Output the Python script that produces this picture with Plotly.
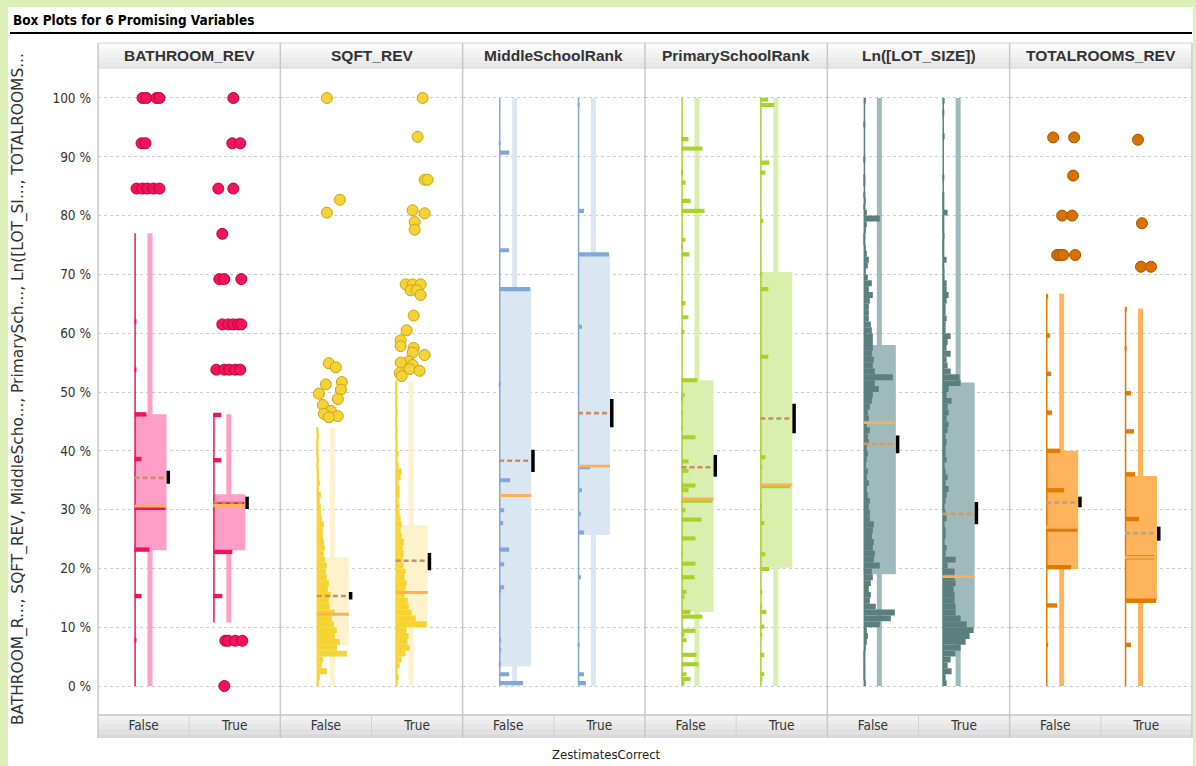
import plotly.graph_objects as go

# ---------------- data ----------------
variables = ["BATHROOM_REV", "SQFT_REV", "MiddleSchoolRank",
             "PrimarySchoolRank", "Ln([LOT_SIZE])", "TOTALROOMS_REV"]
groups = ["False", "True"]
y_tick_vals = [0, 10, 20, 30, 40, 50, 60, 70, 80, 90, 100]
y_tick_text = ["0 %", "10 %", "20 %", "30 %", "40 %", "50 %",
               "60 %", "70 %", "80 %", "90 %", "100 %"]
y_title = "BATHROOM_R..., SQFT_REV, MiddleScho..., PrimarySch..., Ln([LOT_SI..., TOTALROOMS..."
x_title = "ZestimatesCorrect"
chart_title = "Box Plots for 6 Promising Variables"

# per variable: [False, True]
q1 = [[23.1, 23.1], [6.9, 9.8], [3.3, 25.7], [12.6, 20.1], [19.0, 9.8], [19.9, 14.5]]
q3 = [[46.2, 32.6], [21.9, 27.4], [67.6, 73.4], [52.0, 70.4], [58.0, 51.6], [40.0, 35.7]]
median = [[30.6, 30.7], [12.2, 15.9], [32.4, 37.4], [31.8, 34.2], [44.8, 18.6], [27.0, 21.9]]
mean = [[35.4, 31.2], [15.3, 21.3], [38.3, 46.4], [37.2, 45.5], [41.2, 29.3], [31.2, 26.0]]
ci_low = [[34.4, 30.1], [14.7, 19.7], [36.4, 44.0], [35.6, 43.0], [39.6, 27.5], [30.4, 24.7]]
ci_high = [[36.6, 32.2], [16.0, 22.6], [40.2, 48.8], [39.3, 48.0], [42.6, 31.3], [32.2, 27.1]]
whisk_low = [[0, 10.8], [0, 0], [0, 0], [0, 0], [0, 0], [0, 0]]
whisk_high = [[77.0, 46.2], [44.0, 51.8], [100, 100], [100, 100], [100, 100], [66.7, 64.2]]

# distribution strips (value %, count)
bath_f_vals = [62.0, 53.8, 46.2, 38.6, 30.3, 23.2, 15.3, 7.8]
bath_f_cnts = [2, 2, 12, 7, 31, 15, 7, 2]
bath_t_vals = [46.1, 38.4, 30.9, 22.8, 15.3]
bath_t_cnts = [8, 8, 31, 19, 9]

sqft_f_cnts = [2, 3, 10, 5, 6, 30, 20, 23, 18, 20, 17, 15, 18, 13, 12, 14, 11, 12, 10, 9,
               10, 8, 7, 8, 7, 6, 6, 7, 5, 4, 4, 3, 4, 2, 3, 2, 2, 1, 2, 1, 1, 1, 2, 1]
sqft_t_cnts = [2, 3, 2, 4, 6, 10, 14, 12, 13, 11, 31, 20, 16, 13, 12, 9, 10, 11, 9, 10,
               8, 7, 8, 7, 8, 6, 5, 6, 5, 4, 4, 3, 4, 4, 3, 5, 6, 3, 2, 3, 2, 2, 1, 2,
               1, 1, 2, 1, 1, 1, 1, 1]

mid_f_vals = [92.3, 90.7, 74.1, 67.5, 51.3, 35.0, 29.9, 27.7, 23.2, 20.7, 16.8, 16.2,
              7.8, 6.1, 3.7, 2.0, 0.5]
mid_f_cnts = [1, 10, 10, 31, 1, 11, 5, 4, 10, 5, 5, 2, 2, 2, 1, 10, 24]
mid_t_vals = [98.8, 80.8, 73.4, 61.1, 37.2, 33.3, 29.3, 26.1, 18.5, 7.0, 2.0, 0.5]
mid_t_cnts = [1, 6, 31, 4, 12, 4, 3, 6, 3, 1, 6, 8]

prim_f_vals = [93.0, 91.4, 87.3, 85.6, 82.5, 80.8, 75.9, 74.7, 73.4, 65.1, 62.7, 60.2,
               52.0, 49.5, 48.8, 46.4, 43.9, 42.3, 38.2, 36.6, 34.1, 33.3, 31.5, 29.9,
               28.3, 25.1, 22.4, 20.8, 18.5, 16.0, 15.2, 12.6, 11.8, 9.4, 8.7, 7.8,
               5.3, 3.7, 2.0, 1.2, 0.5]
prim_f_cnts = [7, 21, 1.5, 4, 9, 23, 4, 1.5, 8, 4, 7, 3,
               16, 3, 1.5, 1.5, 1.5, 14, 7, 7, 14, 7, 31, 4,
               20, 14, 1.5, 14, 13, 5, 3, 9, 21, 14, 3, 5,
               15, 17, 5, 9, 3]
prim_t_vals = [99.7, 98.8, 89.0, 87.3, 79.1, 70.0, 67.5, 56.0, 38.9, 37.3, 34.0, 30.7,
               27.7, 22.4, 19.9, 16.0, 13.5, 12.6, 10.1, 8.7, 5.3, 2.0, 1.2]
prim_t_cnts = [8, 14, 9, 5, 3, 2, 8, 8, 5, 2, 30, 1.5,
               4, 5, 9, 2, 1.5, 6, 4, 2, 4, 4, 2]

lot_f_cnts = [2, 1, 1, 1, 1, 1, 2, 3, 4, 3, 16, 27, 31, 12, 6, 7, 5, 7, 9, 8,
              16, 10, 11, 9, 10, 8, 9, 10, 6, 6, 5, 6, 4, 3, 5, 3, 4, 2, 3, 4,
              3, 5, 4, 6, 3, 5, 4, 6, 8, 9, 15, 11, 29, 11, 9, 10, 8, 9, 9, 9,
              8, 7, 5, 5, 5, 6, 9, 5, 8, 4, 2, 4, 5, 3, 2, 1, 1, 2, 3, 16,
              3, 1, 2, 1, 0, 1, 1, 0, 0, 1, 0, 0, 0, 0, 0, 1, 0, 0, 0, 2]
lot_t_cnts = [4, 3, 9, 5, 8, 13, 18, 23, 27, 31, 24, 18, 13, 13, 12, 12, 11, 13, 12, 12,
              5, 13, 3, 4, 2, 3, 3, 2, 4, 3, 2, 3, 4, 6, 3, 5, 3, 2, 4, 3,
              3, 4, 3, 5, 6, 4, 6, 5, 9, 4, 6, 18, 17, 8, 5, 4, 8, 4, 5, 8,
              3, 3, 4, 3, 3, 4, 6, 4, 4, 2, 2, 1, 4, 1, 1, 1, 2, 1, 1, 1,
              5, 1, 1, 1, 0, 0, 1, 0, 0, 0, 0, 0, 0, 2, 0, 0, 0, 1, 0, 2]

tot_f_vals = [66.2, 59.6, 53.1, 46.5, 40.0, 33.3, 26.6, 20.2, 13.7, 7.0]
tot_f_cnts = [2, 4, 5, 6, 14, 18, 31, 25, 11, 2]
tot_t_vals = [64.1, 57.4, 49.8, 43.3, 36.0, 28.4, 21.9, 14.5, 7.0]
tot_t_cnts = [2, 1.5, 6, 9, 10, 14, 30, 31, 6]

# outliers (value %) and their horizontal jitter (px from box left)
bath_f_out = [100, 100, 100, 100, 92.3, 92.3, 84.6, 84.6, 84.6, 84.6, 84.6]
bath_f_jit = [8, 12, 22, 25, 7, 11, 2, 8, 13, 19, 25]
bath_t_out = [100, 92.3, 92.3, 84.6, 84.6, 76.9, 69.2, 69.2, 69.2,
              61.5, 61.5, 61.5, 61.5, 61.5, 53.8, 53.8, 53.8, 53.8, 53.8,
              7.7, 7.7, 7.7, 7.7, 0]
bath_t_jit = [20, 19, 27, 5, 20, 9, 6, 11, 28,
              9, 15, 20, 25, 28, 3, 11, 16, 22, 27,
              12, 15, 22, 29, 11]
sqft_f_out = [100, 82.7, 80.5, 54.9, 54.2, 51.7, 51.3, 50.4, 49.7, 48.8, 47.8, 46.8,
              46.3, 45.9, 45.7]
sqft_f_jit = [10, 23, 10, 12, 19, 25, 9, 24, 2, 21, 6, 14, 7, 21, 12]
sqft_t_out = [100, 93.4, 86.1, 86.1, 80.9, 80.4, 78.9, 77.6, 68.3, 68.3, 68.3, 67.3,
              67.3, 66.5, 63.0, 60.5, 58.8, 57.8, 57.5, 56.7, 56.3, 55.2, 55.0, 54.6,
              53.9, 53.6, 53.2, 52.7]
sqft_t_jit = [27, 22, 29, 32, 17, 29, 19, 19, 10, 17, 25, 15,
              21, 25, 18, 11, 5, 5, 18, 17, 29, 13, 5, 17,
              14, 24, 4, 6]
tot_f_out = [93.3, 93.3, 86.8, 80.0, 80.0, 73.3, 73.3, 73.3, 73.3]
tot_f_jit = [7, 28, 27, 16, 26, 11, 14, 17, 29]
tot_t_out = [92.9, 78.7, 71.3, 71.3]
tot_t_jit = [13, 17, 16, 26]

# ---------------- assemble per-category data ----------------
def bins(cnts):
    return [k + 0.5 for k in range(len(cnts))], cnts

hist = [
    [(bath_f_vals, bath_f_cnts), (bath_t_vals, bath_t_cnts)],
    [bins(sqft_f_cnts), bins(sqft_t_cnts)],
    [(mid_f_vals, mid_f_cnts), (mid_t_vals, mid_t_cnts)],
    [(prim_f_vals, prim_f_cnts), (prim_t_vals, prim_t_cnts)],
    [bins(lot_f_cnts), bins(lot_t_cnts)],
    [(tot_f_vals, tot_f_cnts), (tot_t_vals, tot_t_cnts)],
]
outliers = [
    [(bath_f_out, bath_f_jit), (bath_t_out, bath_t_jit)],
    [(sqft_f_out, sqft_f_jit), (sqft_t_out, sqft_t_jit)],
    [([], []), ([], [])],
    [([], []), ([], [])],
    [([], []), ([], [])],
    [(tot_f_out, tot_f_jit), (tot_t_out, tot_t_jit)],
]

# ---------------- styles ----------------
styles = [
    dict(dark="#f0145a", light="#ff9ec6", mk="#f0145a", mkl="#c0003a", bh=0.75, mean="#c49068"),
    dict(dark="#f5d330", light="#fdf2cc", mk="#f5d236", mkl="#c9a414", bh=1.0, mean="#c49068"),
    dict(dark="#80a8d6", light="#dae6f1", mk="#80a8d6", mkl="#5a80b0", bh=0.7, mean="#c49068"),
    dict(dark="#a6d22a", light="#daeeae", mk="#a6d22a", mkl="#7aa010", bh=0.7, mean="#c49068"),
    dict(dark="#5b7f7d", light="#9fbaba", mk="#5b7f7d", mkl="#3a5a58", bh=1.0, mean="#d39a62"),
    dict(dark="#e07a00", light="#ffb35a", mk="#d97100", mkl="#a85400", bh=0.75, mean="#b8a08e"),
]
MEDIAN_C = "#f9b058"

W, H = 1196, 766
ML, MR, MT, MB = 98, 4, 68, 51
PW, PH = W - ML - MR, H - MT - MB
NP = len(variables)
PANEL_W = PW / NP
SLOT_W = PANEL_W / 2
BOX_LEFT = [36.5, 115.3]
BOX_W = 32
WH_OFF, WH_W = 15.5, 5
Y_RANGE = [-4.93, 105.1]

FONT = "Liberation Sans, Arial, sans-serif"
NARROW = "Liberation Sans Narrow, Arial Narrow, DejaVu Sans Condensed, Liberation Sans, sans-serif"
WIDE = "DejaVu Sans, Verdana, sans-serif"


def px_x(p):
    return (p - ML) / PW


def px_y(p):
    return (H - MB - p) / PH


fig = go.Figure()
layout_axes = {}
for i, var in enumerate(variables):
    xa = "x" if i == 0 else f"x{i + 1}"
    st = styles[i]
    for g in range(2):
        bl = BOX_LEFT[g]
        # whisker band
        fig.add_trace(go.Bar(x=[bl + WH_OFF], y=[whisk_high[i][g] - whisk_low[i][g]],
                             base=[whisk_low[i][g]], width=[WH_W],
                             marker=dict(color=st["light"], line=dict(width=0)),
                             xaxis=xa, yaxis="y", hoverinfo="skip"))
        # box
        fig.add_trace(go.Bar(x=[bl + BOX_W / 2], y=[q3[i][g] - q1[i][g]], base=[q1[i][g]],
                             width=[BOX_W],
                             marker=dict(color=st["light"], line=dict(width=0)),
                             xaxis=xa, yaxis="y", hoverinfo="skip"))
        # distribution strip
        hv, hc = hist[i][g]
        fig.add_trace(go.Bar(y=hv, x=hc, base=[bl] * len(hv), orientation="h",
                             width=[st["bh"]] * len(hv),
                             marker=dict(color=st["dark"], line=dict(width=0)),
                             xaxis=xa, yaxis="y", hoverinfo="skip"))
        # strip axis line
        fig.add_trace(go.Scatter(x=[bl + 0.6, bl + 0.6], y=[whisk_low[i][g], whisk_high[i][g]],
                                 mode="lines", line=dict(color=st["dark"], width=1.5),
                                 xaxis=xa, yaxis="y", hoverinfo="skip"))
        # median
        fig.add_trace(go.Scatter(x=[bl, bl + BOX_W], y=[median[i][g]] * 2, mode="lines",
                                 line=dict(color=MEDIAN_C, width=2.8),
                                 xaxis=xa, yaxis="y", hoverinfo="skip"))
        # mean
        fig.add_trace(go.Scatter(x=[bl, bl + BOX_W], y=[mean[i][g]] * 2, mode="lines",
                                 line=dict(color=st["mean"], width=2.6, dash="5px,3px"),
                                 xaxis=xa, yaxis="y", hoverinfo="skip"))
        # confidence interval
        fig.add_trace(go.Scatter(x=[bl + BOX_W + 1.8] * 2, y=[ci_low[i][g], ci_high[i][g]],
                                 mode="lines", line=dict(color="black", width=3.5),
                                 xaxis=xa, yaxis="y", hoverinfo="skip"))
        # outliers
        ov, oj = outliers[i][g]
        if ov:
            fig.add_trace(go.Scatter(x=[bl + j for j in oj], y=ov, mode="markers",
                                     marker=dict(size=11, color=st["mk"],
                                                 line=dict(color=st["mkl"], width=1)),
                                     xaxis=xa, yaxis="y", hoverinfo="skip"))
    key = "xaxis" if i == 0 else f"xaxis{i + 1}"
    layout_axes[key] = dict(domain=[i / NP, (i + 1) / NP], range=[0, PANEL_W], anchor="y",
                            showgrid=False, zeroline=False, showline=False,
                            tickvals=[SLOT_W / 2, SLOT_W * 1.5], ticktext=groups,
                            ticks="", tickfont=dict(family=NARROW, size=13.5, color="#333"),
                            fixedrange=True)

# ---------------- decorations ----------------
shapes = []
GREEN = "#dbefb6"
# outer green frame
shapes.append(dict(type="rect", xref="paper", yref="paper", x0=px_x(0), x1=px_x(8),
                   y0=px_y(H), y1=px_y(0), fillcolor=GREEN, line=dict(width=0), layer="below"))
shapes.append(dict(type="rect", xref="paper", yref="paper", x0=px_x(0), x1=px_x(W),
                   y0=px_y(7), y1=px_y(0), fillcolor=GREEN, line=dict(width=0), layer="below"))
shapes.append(dict(type="rect", xref="paper", yref="paper", x0=px_x(1193), x1=px_x(W),
                   y0=px_y(H), y1=px_y(0), fillcolor=GREEN, line=dict(width=0), layer="below"))
# title underline
shapes.append(dict(type="line", xref="paper", yref="paper", x0=px_x(10), x1=px_x(1192),
                   y0=px_y(33), y1=px_y(33), line=dict(color="black", width=2)))
# header band (gradient)
hdr = ["#fbfbfb", "#f6f6f6", "#f1f1f1", "#ececec", "#e7e7e7"]
for k, c in enumerate(hdr):
    y_top = 43 + k * 5
    shapes.append(dict(type="rect", xref="paper", yref="paper", x0=0, x1=1,
                       y0=px_y(y_top + 5), y1=px_y(y_top), fillcolor=c,
                       line=dict(width=0), layer="below"))
# bottom band (gradient)
bot = ["#f2f2f2", "#ececec", "#e6e6e6", "#e0e0e0", "#dadada"]
for k, c in enumerate(bot):
    y_top = 715 + k * 4.6
    shapes.append(dict(type="rect", xref="paper", yref="paper", x0=0, x1=1,
                       y0=px_y(y_top + 4.6), y1=px_y(y_top), fillcolor=c,
                       line=dict(width=0), layer="below"))
for yy in [43, 68]:
    shapes.append(dict(type="line", xref="paper", yref="paper", x0=0, x1=1,
                       y0=px_y(yy), y1=px_y(yy), line=dict(color="#d4d4d4", width=1)))
shapes.append(dict(type="line", xref="paper", yref="paper", x0=0, x1=1,
                   y0=px_y(715), y1=px_y(715), line=dict(color="#c4c4c4", width=1.5)))
# panel separators
for i in range(NP + 1):
    xp = i / NP
    shapes.append(dict(type="line", xref="paper", yref="paper", x0=xp, x1=xp,
                       y0=px_y(738), y1=px_y(43), line=dict(color="#c8c8c8", width=1.5)))
# slot separators in the bottom band
for i in range(NP):
    xp = (i + 0.5) / NP
    shapes.append(dict(type="line", xref="paper", yref="paper", x0=xp, x1=xp,
                       y0=px_y(738), y1=px_y(715), line=dict(color="#d2d2d2", width=1)))

annotations = []
annotations.append(dict(text=f"<b>{chart_title}</b>", xref="paper", yref="paper",
                        x=px_x(11), y=px_y(20), xanchor="left", yanchor="middle",
                        showarrow=False, font=dict(family=NARROW, size=13.5, color="black")))
for i, var in enumerate(variables):
    annotations.append(dict(text=f"<b>{var}</b>", xref="paper", yref="paper",
                            x=(i + 0.5) / NP, y=px_y(55.5), xanchor="center",
                            yanchor="middle", showarrow=False,
                            font=dict(family=FONT, size=15.5, color="#333")))
annotations.append(dict(text=x_title, xref="paper", yref="paper", x=px_x(606),
                        y=px_y(754), xanchor="center", yanchor="middle", showarrow=False,
                        font=dict(family=NARROW, size=13, color="#222")))
annotations.append(dict(text=y_title, xref="paper", yref="paper", x=px_x(18),
                        y=px_y(389), xanchor="center", yanchor="middle", textangle=-90,
                        showarrow=False, font=dict(family=WIDE, size=15.4, color="#333")))

fig.update_layout(
    width=W, height=H,
    margin=dict(l=ML, r=MR, t=MT, b=MB, pad=0),
    paper_bgcolor="white", plot_bgcolor="white",
    barmode="overlay", showlegend=False,
    shapes=shapes, annotations=annotations,
    yaxis=dict(range=Y_RANGE, tickvals=y_tick_vals, ticktext=y_tick_text,
               showgrid=True, gridcolor="#cccccc", griddash="dot", gridwidth=1,
               zeroline=False, showline=False, ticks="", ticklabelstandoff=6,
               tickfont=dict(family=NARROW, size=13.5, color="#333"), fixedrange=True),
    **layout_axes,
)

fig.write_html("out.html", config={"displayModeBar": False},
               post_script="document.body.style.margin='0';document.body.style.padding='0';")
